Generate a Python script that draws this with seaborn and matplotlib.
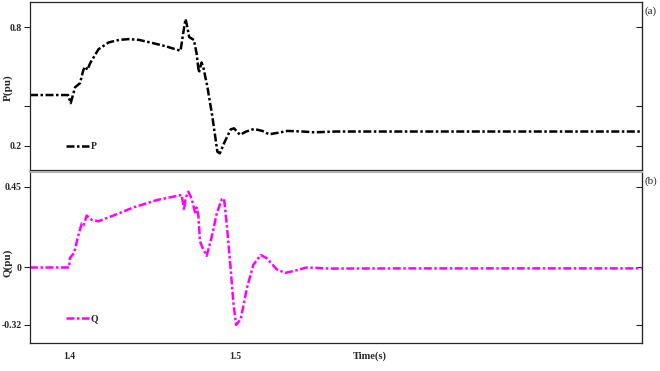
import pandas as pd
import matplotlib
matplotlib.use('Agg')
import matplotlib.pyplot as plt
import seaborn as sns

sns.set_style('ticks')
plt.rcParams['font.family'] = ['Liberation Serif', 'DejaVu Serif']
plt.rcParams['font.weight'] = 'bold'

# P (pu) - active power
t_p = [1.3766, 1.3994, 1.4010, 1.4036, 1.4066, 1.4086, 1.4098, 1.4110, 1.4127, 1.4177,
       1.4237, 1.4300, 1.4357, 1.4420, 1.4488, 1.4580, 1.4669, 1.4685, 1.4699, 1.4709,
       1.4721, 1.4749, 1.4765, 1.4779, 1.4795, 1.4805, 1.4830, 1.4860, 1.4890, 1.4905,
       1.4930, 1.4970, 1.4990, 1.5026, 1.5060, 1.5110, 1.5160, 1.5200, 1.5250, 1.5311,
       1.5400, 1.5472, 1.5600, 1.6000, 1.6500, 1.7000, 1.7436]
p_val = [0.457, 0.457, 0.416, 0.496, 0.517, 0.584, 0.600, 0.584, 0.618, 0.688,
         0.722, 0.735, 0.739, 0.735, 0.722, 0.703, 0.680, 0.769, 0.840, 0.803,
         0.749, 0.735, 0.668, 0.570, 0.621, 0.600, 0.499, 0.348, 0.171, 0.163,
         0.214, 0.284, 0.289, 0.256, 0.272, 0.286, 0.276, 0.259, 0.266, 0.276,
         0.273, 0.269, 0.273, 0.273, 0.273, 0.273, 0.273]

# Q (pu) - reactive power
t_q = [1.3766, 1.4000, 1.4006, 1.4030, 1.4056, 1.4076, 1.4088, 1.4106, 1.4136, 1.4176,
       1.4266, 1.4386, 1.4526, 1.4676, 1.4690, 1.4700, 1.4716, 1.4736, 1.4756, 1.4766,
       1.4776, 1.4786, 1.4802, 1.4826, 1.4856, 1.4886, 1.4916, 1.4930, 1.4946, 1.4970,
       1.4986, 1.5002, 1.5030, 1.5066, 1.5106, 1.5150, 1.5186, 1.5246, 1.5296, 1.5346,
       1.5426, 1.5566, 1.6000, 1.6500, 1.7000, 1.7436]
q_val = [0.0, 0.0, 0.054, 0.080, 0.180, 0.245, 0.235, 0.290, 0.266, 0.258,
         0.290, 0.335, 0.376, 0.405, 0.322, 0.390, 0.423, 0.383, 0.308, 0.335,
         0.290, 0.145, 0.108, 0.065, 0.170, 0.300, 0.380, 0.385, 0.245, -0.010,
         -0.195, -0.320, -0.290, -0.120, 0.015, 0.070, 0.052, -0.010, -0.030, -0.020,
         0.000, -0.006, -0.005, -0.005, -0.005, -0.005]

df_p = pd.DataFrame({'Time': t_p, 'P': p_val})
df_q = pd.DataFrame({'Time': t_q, 'Q': q_val})

fig = plt.figure(figsize=(6.6, 3.71), dpi=100)
ax1 = fig.add_axes([0.0455, 0.5418, 0.9268, 0.4536])
ax2 = fig.add_axes([0.0455, 0.0763, 0.9268, 0.4609])

sns.lineplot(data=df_p, x='Time', y='P', ax=ax1, color='black', lw=1.8,
             label='P', sort=False, estimator=None)
sns.lineplot(data=df_q, x='Time', y='Q', ax=ax2, color='#ff00ff', lw=1.8,
             label='Q', sort=False, estimator=None)

for ax in (ax1, ax2):
    for ln in ax.lines:
        ln.set_dashes((3.2, 1.0, 1.0, 1.0))
    ax.set_xlim(1.3766, 1.7436)
    ax.tick_params(axis='y', direction='out', length=4, width=0.8, labelsize=7, pad=2)
    for s in ax.spines.values():
        s.set_linewidth(0.9)
    leg = ax.legend(loc='lower left', bbox_to_anchor=(0.045, 0.06), frameon=False,
                    fontsize=7, handlelength=2.3, handletextpad=0.2)
    for h in leg.get_lines():
        h.set_dashes((3.2, 1.0, 1.0, 1.0))

# panel (a)
ax1.set_ylim(0.079, 0.9276)
ax1.set_yticks([0.2, 0.4, 0.8])
ax1.set_yticklabels(['0.2', '', '0.8'])
ax1.set_xticks([])
ax1.set_xlabel('')
ax1.set_ylabel('P(pu)', fontsize=8, fontweight='bold')
ax1.yaxis.set_label_coords(-0.028, 0.49)
sec1 = ax1.secondary_yaxis('right')
sec1.set_yticks([0.2, 0.4, 0.8])
sec1.tick_params(direction='in', length=4, labelright=False)
ax1.text(1.004, 0.93, '(a)', transform=ax1.transAxes, fontsize=8, fontweight='normal')

# panel (b)
ax2.set_ylim(-0.4196, 0.5346)
ax2.set_yticks([-0.32, 0, 0.45])
ax2.set_yticklabels(['-0.32', '0', '0.45'])
ax2.set_xticks([1.4, 1.5])
ax2.set_xticklabels(['1.4', '1.5'])
ax2.tick_params(axis='x', length=0, labelsize=7, pad=7)
ax2.set_xlabel('')
ax2.set_ylabel('Q(pu)', fontsize=8, fontweight='bold')
ax2.yaxis.set_label_coords(-0.028, 0.47)
ax2.spines['top'].set_color('#b0b0b0')
ax2.spines['top'].set_linewidth(1.5)
sec2 = ax2.secondary_yaxis('right')
sec2.set_yticks([-0.32, 0, 0.45])
sec2.tick_params(direction='in', length=4, labelright=False)
ax2.text(1.004, 0.93, '(b)', transform=ax2.transAxes, fontsize=8, fontweight='normal')

fig.text(370 / 660, 1 - 356 / 371, 'Time(s)', ha='center', va='center',
         fontsize=7.5, fontweight='bold')

fig.savefig('out.png', dpi=100)
